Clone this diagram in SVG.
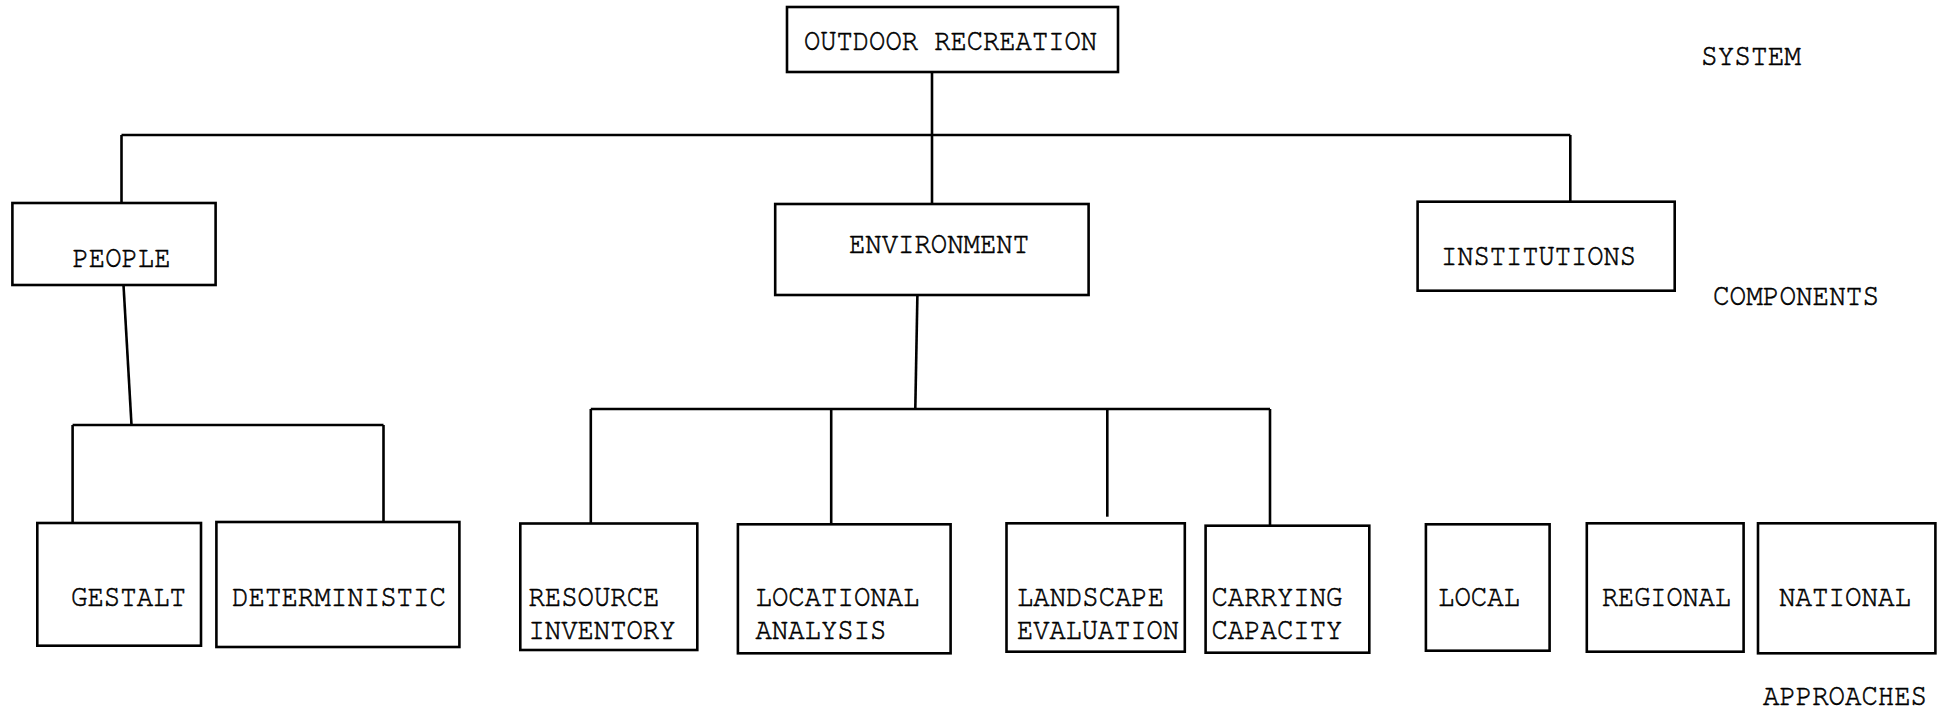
<svg xmlns="http://www.w3.org/2000/svg" width="1947" height="712" viewBox="0 0 1947 712">
<style>
.box{fill:#fff;stroke:#000;stroke-width:2.6}
.ln{fill:none;stroke:#000;stroke-width:2.6}
text{font-family:"Nimbus Mono PS","FreeMono","Courier","Liberation Mono",monospace;font-size:31px;fill:#000;stroke:#000;stroke-width:0.6}
</style>
<rect width="1947" height="712" fill="#fff"/>
<g id="connectors">
<line class="ln" x1="932" y1="72" x2="932" y2="204"/>
<line class="ln" x1="121.5" y1="135" x2="1570.3" y2="135"/>
<line class="ln" x1="121.5" y1="135" x2="121.5" y2="203"/>
<line class="ln" x1="1570.3" y1="135" x2="1570.3" y2="201.7"/>
<line class="ln" x1="123.5" y1="285" x2="131.5" y2="425"/>
<line class="ln" x1="72.6" y1="425" x2="383.5" y2="425"/>
<line class="ln" x1="72.6" y1="425" x2="72.6" y2="523"/>
<line class="ln" x1="383.5" y1="425" x2="383.5" y2="522"/>
<line class="ln" x1="917.4" y1="295" x2="915.3" y2="409"/>
<line class="ln" x1="590.8" y1="409" x2="1270" y2="409"/>
<line class="ln" x1="590.8" y1="409" x2="590.8" y2="523"/>
<line class="ln" x1="831.2" y1="409" x2="831.2" y2="524.3"/>
<line class="ln" x1="1107.3" y1="409" x2="1107.3" y2="516.7"/>
<line class="ln" x1="1270" y1="409" x2="1270" y2="525.7"/>
</g>
<g id="outdoor-recreation"><rect class="box" x="787" y="7" width="331" height="65"/><text x="804" y="50" textLength="293" lengthAdjust="spacingAndGlyphs">OUTDOOR RECREATION</text></g>
<g id="people"><rect class="box" x="12.4" y="203" width="203.2" height="82"/><text x="72.5" y="267" textLength="98" lengthAdjust="spacingAndGlyphs">PEOPLE</text></g>
<g id="environment"><rect class="box" x="775.2" y="204" width="313.4" height="91"/><text x="849" y="252.5" textLength="180" lengthAdjust="spacingAndGlyphs">ENVIRONMENT</text></g>
<g id="institutions"><rect class="box" x="1417.6" y="201.7" width="257.1" height="89"/><text x="1441" y="264.5" textLength="195" lengthAdjust="spacingAndGlyphs">INSTITUTIONS</text></g>
<g id="gestalt"><rect class="box" x="37.3" y="523" width="163.7" height="122.7"/><text x="71" y="606" textLength="115" lengthAdjust="spacingAndGlyphs">GESTALT</text></g>
<g id="deterministic"><rect class="box" x="216.4" y="522" width="243" height="125"/><text x="232" y="606" textLength="214" lengthAdjust="spacingAndGlyphs">DETERMINISTIC</text></g>
<g id="resource-inventory"><rect class="box" x="520.3" y="523.5" width="177" height="126.5"/><text x="528.5" y="606" textLength="131" lengthAdjust="spacingAndGlyphs">RESOURCE</text><text x="528.5" y="638.5" textLength="147" lengthAdjust="spacingAndGlyphs">INVENTORY</text></g>
<g id="locational-analysis"><rect class="box" x="737.9" y="524.3" width="212.7" height="129"/><text x="755.5" y="606" textLength="164" lengthAdjust="spacingAndGlyphs">LOCATIONAL</text><text x="755.5" y="638.5" textLength="131" lengthAdjust="spacingAndGlyphs">ANALYSIS</text></g>
<g id="landscape-evaluation"><rect class="box" x="1006.5" y="523.3" width="178.3" height="128.4"/><text x="1017" y="606" textLength="147" lengthAdjust="spacingAndGlyphs">LANDSCAPE</text><text x="1017" y="638.5" textLength="162" lengthAdjust="spacingAndGlyphs">EVALUATION</text></g>
<g id="carrying-capacity"><rect class="box" x="1205.6" y="525.7" width="163.7" height="127"/><text x="1211.5" y="606" textLength="131" lengthAdjust="spacingAndGlyphs">CARRYING</text><text x="1211.5" y="638.5" textLength="131" lengthAdjust="spacingAndGlyphs">CAPACITY</text></g>
<g id="local"><rect class="box" x="1425.9" y="524.3" width="123.7" height="126.4"/><text x="1438" y="606" textLength="82" lengthAdjust="spacingAndGlyphs">LOCAL</text></g>
<g id="regional"><rect class="box" x="1586.8" y="523.3" width="156.8" height="128.4"/><text x="1602" y="606" textLength="129" lengthAdjust="spacingAndGlyphs">REGIONAL</text></g>
<g id="national"><rect class="box" x="1758" y="523.3" width="177.4" height="130"/><text x="1779" y="606" textLength="132" lengthAdjust="spacingAndGlyphs">NATIONAL</text></g>
<g id="labels">
<text x="1701" y="65" textLength="100" lengthAdjust="spacingAndGlyphs">SYSTEM</text>
<text x="1713" y="305" textLength="166" lengthAdjust="spacingAndGlyphs">COMPONENTS</text>
<text x="1763" y="705" textLength="164" lengthAdjust="spacingAndGlyphs">APPROACHES</text>
</g>
</svg>
